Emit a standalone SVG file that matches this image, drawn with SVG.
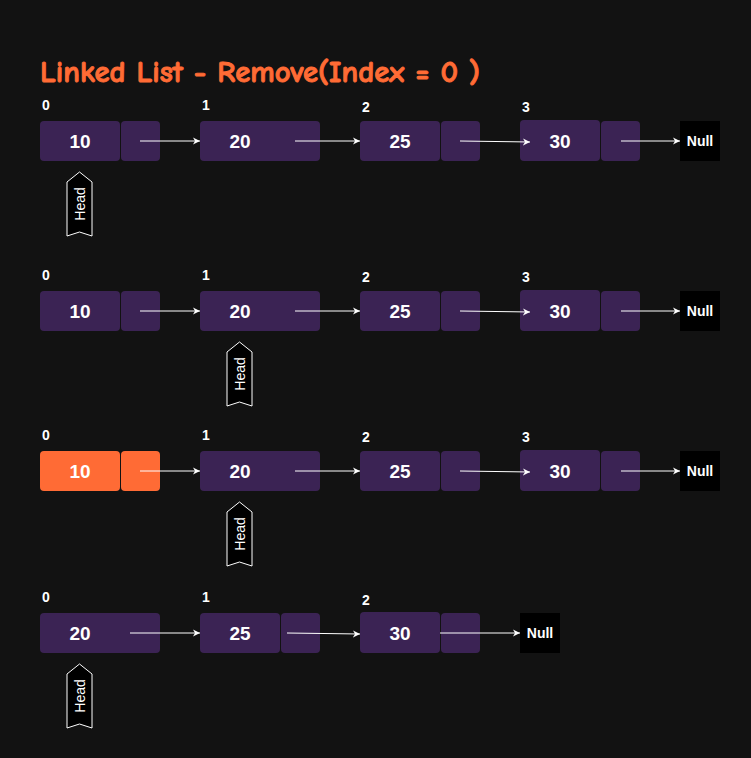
<svg xmlns="http://www.w3.org/2000/svg" width="751" height="758" viewBox="0 0 751 758">
<defs>
<style>
.bg{fill:#121212}
.n{fill:#3b2354;stroke:none}
.o{fill:#ff6b35}
.nul{fill:#000}
.t{font-family:"Liberation Sans",Arial,sans-serif;font-size:19px;font-weight:bold;fill:#fff;text-anchor:middle;dominant-baseline:central}
.nt{font-family:"Liberation Sans",Arial,sans-serif;font-size:14px;font-weight:bold;fill:#fff;text-anchor:middle;dominant-baseline:central}
.idx{font-family:"Liberation Sans",Arial,sans-serif;font-size:14px;font-weight:bold;fill:#fff}
.head{fill:#000;stroke:#fff;stroke-width:1}
.ht{font-family:"Liberation Sans",Arial,sans-serif;font-size:14px;fill:#fff;text-anchor:middle;dominant-baseline:central}
.c{stroke:#fff;stroke-width:1;fill:none;marker-end:url(#ah)}
.title{font-family:"Comic Sans MS","Comic Neue","Liberation Sans",sans-serif;font-size:30px;font-weight:bold;fill:#ff6b35;stroke:#ff6b35;stroke-width:0.9}
</style>
<marker id="ah" markerWidth="8" markerHeight="8" refX="7" refY="4" orient="auto" markerUnits="userSpaceOnUse">
<path d="M0,0.5 L7,4 L0,7.5 L2,4 Z" fill="#fff"/>
</marker>
</defs>
<rect class="bg" x="0" y="0" width="751" height="758"/>
<text class="title" x="40" y="82" textLength="440" lengthAdjust="spacingAndGlyphs">Linked List - Remove(Index = 0 )</text>

<!-- Row 1 -->
<g id="r1-idx">
<text class="idx" x="42" y="110">0</text>
<text class="idx" x="202" y="110">1</text>
<text class="idx" x="362" y="112">2</text>
<text class="idx" x="522" y="112">3</text>
</g>
<g id="r1-n10"><rect class="n" x="40" y="121" width="80" height="40" rx="4"/><rect class="n" x="121" y="121" width="39" height="40" rx="4"/><text class="t" x="80" y="141">10</text></g>
<g id="r1-n20"><rect class="n" x="200" y="121" width="120" height="40" rx="4"/><text class="t" x="240" y="141">20</text></g>
<g id="r1-n25"><rect class="n" x="360" y="121" width="80" height="40" rx="4"/><rect class="n" x="441" y="121" width="39" height="40" rx="4"/><text class="t" x="400" y="141">25</text></g>
<g id="r1-n30"><rect class="n" x="520" y="120" width="80" height="41" rx="4"/><rect class="n" x="601" y="121" width="39" height="40" rx="4"/><text class="t" x="560" y="141">30</text></g>
<g id="r1-null"><rect class="nul" x="680" y="121" width="40" height="40"/><text class="nt" x="700" y="141">Null</text></g>
<g id="r1-head"><path class="head" d="M67,182 L79.5,172 L92,182 L92,236 L79.5,232 L67,236 Z"/><text class="ht" transform="translate(79.5,204) rotate(-90)">Head</text></g>

<!-- Row 2 -->
<g id="r2-idx">
<text class="idx" x="42" y="280">0</text>
<text class="idx" x="202" y="280">1</text>
<text class="idx" x="362" y="282">2</text>
<text class="idx" x="522" y="282">3</text>
</g>
<g id="r2-n10"><rect class="n" x="40" y="291" width="80" height="40" rx="4"/><rect class="n" x="121" y="291" width="39" height="40" rx="4"/><text class="t" x="80" y="311">10</text></g>
<g id="r2-n20"><rect class="n" x="200" y="291" width="120" height="40" rx="4"/><text class="t" x="240" y="311">20</text></g>
<g id="r2-n25"><rect class="n" x="360" y="291" width="80" height="40" rx="4"/><rect class="n" x="441" y="291" width="39" height="40" rx="4"/><text class="t" x="400" y="311">25</text></g>
<g id="r2-n30"><rect class="n" x="520" y="290" width="80" height="41" rx="4"/><rect class="n" x="601" y="291" width="39" height="40" rx="4"/><text class="t" x="560" y="311">30</text></g>
<g id="r2-null"><rect class="nul" x="680" y="291" width="40" height="40"/><text class="nt" x="700" y="311">Null</text></g>
<g id="r2-head"><path class="head" d="M227,352 L239.5,342 L252,352 L252,406 L239.5,402 L227,406 Z"/><text class="ht" transform="translate(239.5,374) rotate(-90)">Head</text></g>

<!-- Row 3 -->
<g id="r3-idx">
<text class="idx" x="42" y="440">0</text>
<text class="idx" x="202" y="440">1</text>
<text class="idx" x="362" y="442">2</text>
<text class="idx" x="522" y="442">3</text>
</g>
<g id="r3-n10"><rect class="o" x="40" y="451" width="80" height="40" rx="4"/><rect class="o" x="121" y="451" width="39" height="40" rx="4"/><text class="t" x="80" y="471">10</text></g>
<g id="r3-n20"><rect class="n" x="200" y="451" width="120" height="40" rx="4"/><text class="t" x="240" y="471">20</text></g>
<g id="r3-n25"><rect class="n" x="360" y="451" width="80" height="40" rx="4"/><rect class="n" x="441" y="451" width="39" height="40" rx="4"/><text class="t" x="400" y="471">25</text></g>
<g id="r3-n30"><rect class="n" x="520" y="450" width="80" height="41" rx="4"/><rect class="n" x="601" y="451" width="39" height="40" rx="4"/><text class="t" x="560" y="471">30</text></g>
<g id="r3-null"><rect class="nul" x="680" y="451" width="40" height="40"/><text class="nt" x="700" y="471">Null</text></g>
<g id="r3-head"><path class="head" d="M227,512 L239.5,502 L252,512 L252,566 L239.5,562 L227,566 Z"/><text class="ht" transform="translate(239.5,534) rotate(-90)">Head</text></g>

<!-- Row 4 -->
<g id="r4-idx">
<text class="idx" x="42" y="602">0</text>
<text class="idx" x="202" y="602">1</text>
<text class="idx" x="362" y="605">2</text>
</g>
<g id="r4-n20"><rect class="n" x="40" y="613" width="120" height="40" rx="4"/><text class="t" x="80" y="633">20</text></g>
<g id="r4-n25"><rect class="n" x="200" y="613" width="80" height="40" rx="4"/><rect class="n" x="281" y="613" width="39" height="40" rx="4"/><text class="t" x="240" y="633">25</text></g>
<g id="r4-n30"><rect class="n" x="360" y="612" width="80" height="41" rx="4"/><rect class="n" x="441" y="613" width="39" height="40" rx="4"/><text class="t" x="400" y="633">30</text></g>
<g id="r4-null"><rect class="nul" x="520" y="613" width="40" height="40"/><text class="nt" x="540" y="633">Null</text></g>
<g id="r4-head"><path class="head" d="M67,674 L79.5,664 L92,674 L92,728 L79.5,724 L67,728 Z"/><text class="ht" transform="translate(79.5,696) rotate(-90)">Head</text></g>

<g id="connectors">
<line class="c" x1="140" y1="141" x2="200" y2="141"/>
<line class="c" x1="295" y1="141" x2="360" y2="141"/>
<line class="c" x1="460" y1="141" x2="530" y2="142"/>
<line class="c" x1="621" y1="141" x2="680" y2="141"/>

<line class="c" x1="140" y1="311" x2="200" y2="311"/>
<line class="c" x1="295" y1="311" x2="360" y2="311"/>
<line class="c" x1="460" y1="311" x2="530" y2="312"/>
<line class="c" x1="621" y1="311" x2="680" y2="311"/>

<line class="c" x1="140" y1="471" x2="200" y2="471"/>
<line class="c" x1="295" y1="471" x2="360" y2="471"/>
<line class="c" x1="460" y1="471" x2="530" y2="472"/>
<line class="c" x1="621" y1="471" x2="680" y2="471"/>

<line class="c" x1="130" y1="633" x2="200" y2="633"/>
<line class="c" x1="287" y1="633" x2="360" y2="634"/>
<line class="c" x1="440" y1="633" x2="520" y2="633"/>
</g>
</svg>
